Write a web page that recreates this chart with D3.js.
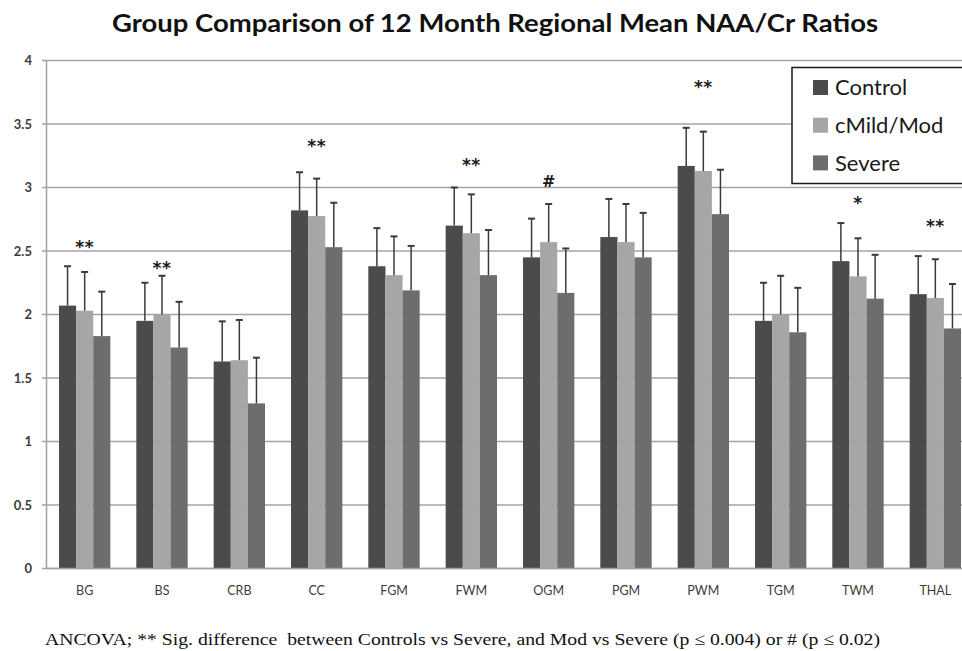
<!DOCTYPE html>
<html>
<head>
<meta charset="utf-8">
<script src="https://cdn.jsdelivr.net/npm/d3@7"></script>
<style>
  html, body { margin: 0; padding: 0; background: #fff; }
  svg { display: block; }
</style>
</head>
<body>
<svg id="chart" width="962" height="651"></svg>
<script>
// ---- data ----
const categories = ["BG","BS","CRB","CC","FGM","FWM","OGM","PGM","PWM","TGM","TWM","THAL"];
const seriesNames = ["Control","cMild/Mod","Severe"];
const controlMean = [2.07,1.95,1.63,2.82,2.38,2.70,2.45,2.61,3.17,1.95,2.42,2.16];
const mildModMean = [2.03,2.00,1.64,2.775,2.31,2.64,2.57,2.57,3.13,2.00,2.30,2.13];
const severeMean  = [1.83,1.74,1.30,2.53,2.19,2.31,2.17,2.45,2.79,1.86,2.125,1.89];
const controlSD = [0.31,0.30,0.316,0.30,0.30,0.30,0.305,0.30,0.30,0.30,0.30,0.30];
const mildModSD = [0.305,0.305,0.317,0.295,0.305,0.306,0.30,0.30,0.31,0.305,0.30,0.305];
const severeSD  = [0.35,0.36,0.36,0.35,0.35,0.355,0.35,0.35,0.35,0.35,0.345,0.35];
const sigMarks  = ["**","**","","**","","**","#","","**","","*","**"];
const sigLevel  = [2.57,2.405,0,3.366,0,3.21,3.05,0,3.83,0,2.915,2.73];
const yTicks = [0,0.5,1,1.5,2,2.5,3,3.5,4];
const titleText = "Group Comparison of 12 Month Regional Mean NAA/Cr Ratios";
const footnoteText = "ANCOVA; ** Sig. difference  between Controls vs Severe, and Mod vs Severe (p \u2264 0.004) or # (p \u2264 0.02)";

const means = [controlMean, mildModMean, severeMean];
const sds = [controlSD, mildModSD, severeSD];
const colors = ["#4b4b4b", "#a6a6a6", "#6d6d6d"];

const svg = d3.select("#chart");
const plot = { left: 46, right: 974, top: 60.5, bottom: 568.5 };

const x0 = d3.scaleBand().domain(categories).range([plot.left, plot.right]).padding(0);
const bw = x0.bandwidth();
const x1 = d3.scaleBand().domain(seriesNames).range([bw * 0.168, bw * 0.832]).padding(0);
const y = d3.scaleLinear().domain([0, 4]).range([plot.bottom, plot.top]);
const color = d3.scaleOrdinal().domain(seriesNames).range(colors);

// title
svg.append("text")
  .attr("x", 495).attr("y", 31.5)
  .attr("text-anchor", "middle")
  .attr("font-family", "Lato, 'Open Sans', sans-serif")
  .attr("font-weight", "bold")
  .attr("font-size", 25.5)
  .attr("fill", "#111")
  .attr("textLength", 766).attr("lengthAdjust", "spacingAndGlyphs")
  .text(titleText);

// gridlines
svg.append("g")
  .selectAll("line")
  .data(yTicks)
  .join("line")
  .attr("x1", plot.left - 4).attr("x2", 962)
  .attr("y1", d => y(d)).attr("y2", d => y(d))
  .attr("stroke", "#a3a3a3").attr("stroke-width", 1.5);

// y axis labels
const yAxis = d3.axisLeft(y).tickValues(yTicks).tickSize(0).tickPadding(14).tickFormat(d3.format("~g"));
const yg = svg.append("g").attr("transform", `translate(${plot.left},0)`).call(yAxis);
yg.select(".domain").attr("stroke", "#a3a3a3").attr("stroke-width", 1.5);
yg.selectAll("text")
  .attr("font-family", "Lato, sans-serif")
  .attr("font-size", 13)
  .attr("font-weight", "bold")
  .attr("fill", "#3c3c3c");

// x axis labels
const xAxis = d3.axisBottom(x0).tickSize(0).tickPadding(18);
const xg = svg.append("g").attr("transform", `translate(0,${plot.bottom})`).call(xAxis);
xg.select(".domain").remove();
xg.selectAll("text")
  .attr("font-family", "Lato, sans-serif")
  .attr("font-size", 12.5)
  .attr("fill", "#3c3c3c");

// bars
const rows = categories.map((c, i) => ({
  cat: c,
  vals: seriesNames.map((s, k) => ({ s, k, mean: means[k][i], sd: sds[k][i] }))
}));

const groups = svg.append("g").selectAll("g")
  .data(rows)
  .join("g")
  .attr("transform", d => `translate(${x0(d.cat)},0)`);

groups.selectAll("rect")
  .data(d => d.vals)
  .join("rect")
  .attr("x", d => x1(d.s))
  .attr("width", x1.bandwidth())
  .attr("y", d => y(d.mean))
  .attr("height", d => y(0) - y(d.mean))
  .attr("fill", d => color(d.s));

// error bars (upper only)
const eb = groups.selectAll("g.eb")
  .data(d => d.vals)
  .join("g").attr("class", "eb");
eb.append("line")
  .attr("x1", d => x1(d.s) + x1.bandwidth() / 2)
  .attr("x2", d => x1(d.s) + x1.bandwidth() / 2)
  .attr("y1", d => y(d.mean))
  .attr("y2", d => y(d.mean + d.sd))
  .attr("stroke", "#3a3a3a").attr("stroke-width", 1.5);
eb.append("line")
  .attr("x1", d => x1(d.s) + x1.bandwidth() / 2 - 3.5)
  .attr("x2", d => x1(d.s) + x1.bandwidth() / 2 + 3.5)
  .attr("y1", d => y(d.mean + d.sd))
  .attr("y2", d => y(d.mean + d.sd))
  .attr("stroke", "#3a3a3a").attr("stroke-width", 2);

// bottom axis line
svg.append("line")
  .attr("x1", plot.left).attr("x2", 962)
  .attr("y1", y(0)).attr("y2", y(0))
  .attr("stroke", "#a3a3a3").attr("stroke-width", 1.5);

// significance marks
svg.append("g").selectAll("text")
  .data(categories.map((c, i) => ({ c, m: sigMarks[i], lv: sigLevel[i] })).filter(d => d.m))
  .join("text")
  .attr("x", d => x0(d.c) + bw / 2)
  .attr("y", d => y(d.lv))
  .attr("dy", d => d.m === "#" ? "0.36em" : "0.62em")
  .attr("text-anchor", "middle")
  .attr("font-family", "'DejaVu Sans', sans-serif")
  .attr("font-weight", "bold")
  .attr("font-size", d => d.m === "#" ? 16 : 17)
  .attr("letter-spacing", d => d.m === "#" ? 0 : 0.5)
  .attr("fill", "#1a1a1a")
  .text(d => d.m);

// legend
const lg = svg.append("g");
lg.append("rect")
  .attr("x", 792).attr("y", 67.5)
  .attr("width", 190).attr("height", 116)
  .attr("fill", "#fff")
  .attr("stroke", "#1a1a1a").attr("stroke-width", 1.5);
const li = lg.selectAll("g.item")
  .data(seriesNames)
  .join("g").attr("class", "item")
  .attr("transform", (d, i) => `translate(813,${87.5 + i * 37.7})`);
li.append("rect")
  .attr("x", 0).attr("y", -7.5).attr("width", 15).attr("height", 15)
  .attr("fill", d => color(d));
li.append("text")
  .attr("x", 22).attr("y", 0).attr("dy", "0.36em")
  .attr("font-family", "Lato, sans-serif")
  .attr("font-size", 22)
  .attr("fill", "#1a1a1a")
  .text(d => d);

// footnote
svg.append("text")
  .attr("x", 45).attr("y", 645)
  .attr("font-family", "'Liberation Serif', 'Times New Roman', serif")
  .attr("font-size", 17)
  .attr("fill", "#111")
  .attr("xml:space", "preserve")
  .style("white-space", "pre")
  .attr("textLength", 835).attr("lengthAdjust", "spacingAndGlyphs")
  .text(footnoteText);
</script>
</body>
</html>
